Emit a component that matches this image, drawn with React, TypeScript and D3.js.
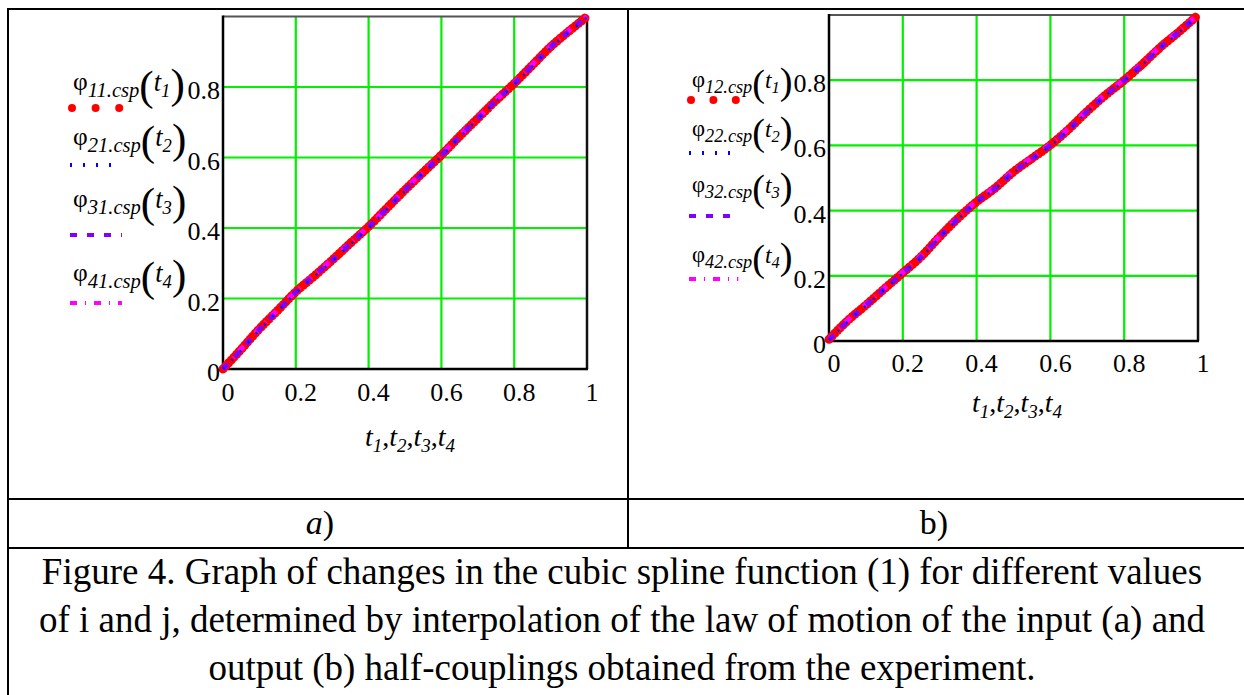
import React from "react";
import * as d3 from "d3";

// ---- data ----
const tValues = [0, 0.05, 0.1, 0.15, 0.2, 0.25, 0.3, 0.35, 0.4, 0.45, 0.5, 0.55, 0.6, 0.65, 0.7, 0.75, 0.8, 0.85, 0.9, 0.95, 1];

// panel a) input half-coupling
const phi11 = [0, 0.056, 0.114, 0.166, 0.219, 0.263, 0.309, 0.357, 0.404, 0.456, 0.508, 0.558, 0.607, 0.66, 0.711, 0.762, 0.81, 0.862, 0.914, 0.958, 1];
const phi21 = [0, 0.053, 0.111, 0.163, 0.216, 0.262, 0.306, 0.354, 0.401, 0.453, 0.505, 0.556, 0.604, 0.657, 0.709, 0.759, 0.807, 0.859, 0.911, 0.955, 0.998];
const phi31 = [0, 0.054, 0.112, 0.164, 0.218, 0.264, 0.308, 0.356, 0.403, 0.454, 0.507, 0.557, 0.606, 0.659, 0.71, 0.761, 0.809, 0.861, 0.913, 0.957, 0.999];
const phi41 = [0, 0.057, 0.115, 0.168, 0.22, 0.266, 0.311, 0.359, 0.405, 0.457, 0.51, 0.56, 0.609, 0.662, 0.713, 0.764, 0.812, 0.864, 0.916, 0.96, 1];

// panel b) output half-coupling
const phi12 = [0.005, 0.062, 0.11, 0.16, 0.209, 0.259, 0.32, 0.377, 0.427, 0.469, 0.519, 0.56, 0.601, 0.65, 0.705, 0.755, 0.8, 0.85, 0.903, 0.95, 1];
const phi22 = [0.003, 0.059, 0.108, 0.158, 0.207, 0.257, 0.318, 0.375, 0.425, 0.467, 0.517, 0.558, 0.599, 0.648, 0.703, 0.753, 0.798, 0.848, 0.901, 0.948, 0.998];
const phi32 = [0.004, 0.06, 0.109, 0.159, 0.208, 0.258, 0.319, 0.376, 0.426, 0.468, 0.518, 0.559, 0.6, 0.649, 0.704, 0.754, 0.799, 0.849, 0.902, 0.949, 0.999];
const phi42 = [0.004, 0.063, 0.112, 0.162, 0.211, 0.262, 0.322, 0.379, 0.429, 0.472, 0.522, 0.563, 0.604, 0.653, 0.708, 0.758, 0.803, 0.853, 0.906, 0.953, 1];

const xTickValues = [0, 0.2, 0.4, 0.6, 0.8, 1];
const xTickLabels = ["0", "0.2", "0.4", "0.6", "0.8", "1"];
const yTickValues = [0, 0.2, 0.4, 0.6, 0.8];
const yTickLabels = ["0", "0.2", "0.4", "0.6", "0.8"];
const gridValues = [0.2, 0.4, 0.6, 0.8];

const seriesNamesA = ["11", "21", "31", "41"];
const seriesNamesB = ["12", "22", "32", "42"];
const seriesColors = ["#ff0000", "#0000ff", "#8000ff", "#ff00ff"];

const captionLines = [
  "Figure 4. Graph of changes in the cubic spline function (1) for different values",
  "of i and j, determined by interpolation of the law of motion of the input (a) and",
  "output (b) half-couplings obtained from the experiment.",
];

const FONT = "'Liberation Serif', 'Times New Roman', serif";

type Panel = {
  left: number; right: number; bottom: number; top: number;
  series: number[][]; names: string[];
  legendX: number; legendText: number[]; legendSample: number[]; legendScale: number;
  xLabelBase: number; titleX: number; titleY: number;
};

const panels: Panel[] = [
  {
    left: 223, right: 587, bottom: 369, top: 16.5,
    series: [phi11, phi21, phi31, phi41], names: seriesNamesA,
    legendX: 73, legendText: [90, 145, 207, 281], legendSample: [108, 165, 235, 303], legendScale: 0.98,
    xLabelBase: 401, titleX: 410, titleY: 446,
  },
  {
    left: 829, right: 1198, bottom: 341, top: 15,
    series: [phi12, phi22, phi32, phi42], names: seriesNamesB,
    legendX: 692, legendText: [87, 136, 192, 262], legendSample: [100, 153, 216, 279], legendScale: 0.87,
    xLabelBase: 372, titleX: 1017, titleY: 412,
  },
];

const lineStyles = [
  { width: 9, dash: "0.5 3.5", cap: "round" as const },
  { width: 2.5, dash: "2 10", cap: "butt" as const },
  { width: 5, dash: "7 10", cap: "butt" as const },
  { width: 5, dash: "7 8 1 8", cap: "butt" as const },
];
const drawOrder = [0, 3, 2, 1];

function LegendEntry({ x, y, name, idx, s }: { x: number; y: number; name: string; idx: number; s: number }) {
  return (
    <text x={x} y={y} fontFamily={FONT} fill="#000" fontSize={26 * s}>
      <tspan>φ</tspan>
      <tspan fontStyle="italic" fontSize={21 * s} dy={7 * s}>{name}.csp</tspan>
      <tspan fontSize={44 * s} dy={3 * s}>(</tspan>
      <tspan fontStyle="italic" fontSize={27 * s} dy={-9 * s}>t</tspan>
      <tspan fontStyle="italic" fontSize={19 * s} dy={6 * s}>{idx + 1}</tspan>
      <tspan fontSize={44 * s} dy={1 * s}>)</tspan>
    </text>
  );
}

function LegendSample({ x, y, idx, s }: { x: number; y: number; idx: number; s: number }) {
  const w = 53 * Math.max(s, 0.93);
  const c = seriesColors[idx];
  if (idx === 0) {
    return (
      <g>
        {[0, 1, 2].map((k) => (
          <circle key={k} cx={x + k * (w / 2.2)} cy={y} r={4} fill={c} />
        ))}
      </g>
    );
  }
  const st = idx === 1 ? { sw: 4, dash: "2 11" } : idx === 2 ? { sw: 4, dash: "7 10" } : { sw: 4, dash: "7 8 1 8" };
  return <line x1={x - 2} x2={x - 2 + w} y1={y} y2={y} stroke={c} strokeWidth={st.sw} strokeDasharray={st.dash} />;
}

function PlotPanel({ p }: { p: Panel }) {
  const x = d3.scaleLinear().domain([0, 1]).range([p.left, p.right]);
  const y = d3.scaleLinear().domain([0, 1]).range([p.bottom, p.top]);
  const line = d3
    .line<number>()
    .x((_, i) => x(tValues[i]))
    .y((d) => y(d))
    .curve(d3.curveMonotoneX);
  const t = (n: number) => (
    <>
      <tspan fontStyle="italic" dy={0}>t</tspan>
      <tspan fontStyle="italic" fontSize={19} dy={6}>{n}</tspan>
    </>
  );
  return (
    <g>
      {/* grid */}
      {gridValues.map((g) => (
        <line key={"gx" + g} x1={x(g)} x2={x(g)} y1={y(0)} y2={y(1)} stroke="#00f000" strokeWidth={2.2} />
      ))}
      {gridValues.map((g) => (
        <line key={"gy" + g} x1={x(0)} x2={x(1)} y1={y(g)} y2={y(g)} stroke="#00f000" strokeWidth={2.2} />
      ))}
      {/* frame */}
      <line x1={x(0)} x2={x(1)} y1={y(1)} y2={y(1)} stroke="#555" strokeWidth={2} />
      <line x1={x(1)} x2={x(1)} y1={y(0)} y2={y(1)} stroke="#111" strokeWidth={2.5} />
      <line x1={x(0)} x2={x(0)} y1={y(0) + 1} y2={y(1) - 1} stroke="#000" strokeWidth={2.5} />
      <line x1={x(0) - 1} x2={x(1) + 1} y1={y(0)} y2={y(0)} stroke="#000" strokeWidth={2.5} />
      {/* series */}
      {drawOrder.map((i) => (
        <path
          key={i}
          d={line(p.series[i]) || ""}
          fill="none"
          stroke={seriesColors[i]}
          strokeWidth={lineStyles[i].width}
          strokeDasharray={lineStyles[i].dash}
          strokeLinecap={lineStyles[i].cap}
        />
      ))}
      {/* y ticks */}
      {yTickValues.map((v, i) => (
        <text key={"yt" + v} x={x(0) - 3} y={y(v) + 12} textAnchor="end" fontFamily={FONT} fontSize={26} fill="#000">
          {yTickLabels[i]}
        </text>
      ))}
      {/* x ticks */}
      {xTickValues.map((v, i) => (
        <text key={"xt" + v} x={x(v) + 5} y={p.xLabelBase} textAnchor="middle" fontFamily={FONT} fontSize={26} fill="#000">
          {xTickLabels[i]}
        </text>
      ))}
      {/* axis title */}
      <text x={p.titleX} y={p.titleY} textAnchor="middle" fontFamily={FONT} fontSize={28} fill="#000">
        {t(1)}
        <tspan dy={-6}>,</tspan>
        {t(2)}
        <tspan dy={-6}>,</tspan>
        {t(3)}
        <tspan dy={-6}>,</tspan>
        {t(4)}
      </text>
      {/* legend */}
      {p.names.map((n, i) => (
        <g key={"lg" + n}>
          <LegendEntry x={p.legendX} y={p.legendText[i]} name={n} idx={i} s={p.legendScale} />
          <LegendSample x={p.legendX - 1} y={p.legendSample[i]} idx={i} s={p.legendScale} />
        </g>
      ))}
    </g>
  );
}

export default function App() {
  return (
    <svg
      width={1244}
      height={695}
      viewBox="0 0 1244 695"
      style={{ position: "absolute", left: 0, top: 0, background: "#fff" }}
    >
      <rect x={0} y={0} width={1244} height={695} fill="#fff" />
      {/* table */}
      <g stroke="#000" strokeWidth={2}>
        <line x1={8} x2={1244} y1={9} y2={9} />
        <line x1={8} x2={8} y1={8} y2={695} />
        <line x1={628} x2={628} y1={8} y2={548} />
        <line x1={8} x2={1244} y1={499} y2={499} />
        <line x1={8} x2={1244} y1={548} y2={548} />
      </g>
      {panels.map((p, i) => (
        <PlotPanel key={i} p={p} />
      ))}
      <text x={320} y={534} textAnchor="middle" fontFamily={FONT} fontSize={34} fill="#000">
        <tspan fontStyle="italic">a</tspan>)
      </text>
      <text x={934} y={534} textAnchor="middle" fontFamily={FONT} fontSize={34} fill="#000">
        b)
      </text>
      {captionLines.map((l, i) => (
        <text key={i} x={622} y={584 + i * 48} textAnchor="middle" fontFamily={FONT} fontSize={37} fill="#000">
          {l}
        </text>
      ))}
    </svg>
  );
}
